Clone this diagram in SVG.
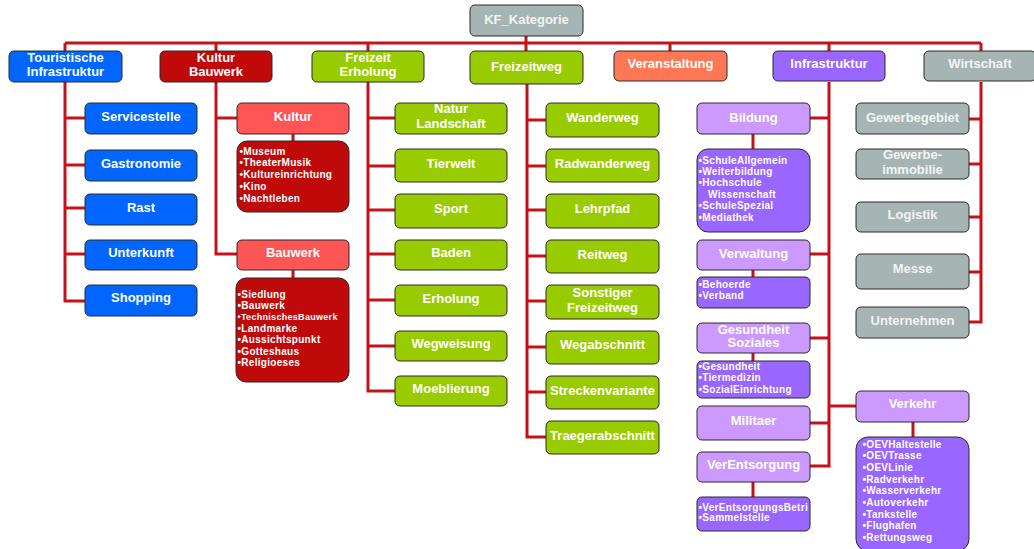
<svg xmlns="http://www.w3.org/2000/svg" width="1034" height="549" viewBox="0 0 1034 549">
<style>
.b{stroke:#2b2b2b;stroke-width:1}
.blue{fill:#0066FF}.dred{fill:#C00A0A}.lred{fill:#FF5555}.green{fill:#99CC00}.orange{fill:#FF7755}.purple{fill:#9966FF}.lpurple{fill:#CC99FF}.gray{fill:#A6B4B4}
text{font-family:"Liberation Sans",Arial,sans-serif;font-weight:bold;fill:#fff}
.t{font-size:13px;text-anchor:middle}
.l{font-size:10px;letter-spacing:0.3px}
.s{font-size:9px;letter-spacing:0.3px}
.gt{fill:#f2f4f4}
.c{fill:none;stroke:#C4121A;stroke-width:3;stroke-linejoin:miter}
</style>
<defs>
<clipPath id="clipVE"><rect x="697" y="497" width="113" height="34"/></clipPath>
</defs>
<rect width="1034" height="549" fill="#fff"/>
<g id="connectors">
<path class="c" d="M526,36V43M65,43H981M65,43V51M216,43V51M368,43V51M526,43V51M670,43V51M829,43V51M981,43V51"/>
<path class="c" d="M65,82V301H85M65,118H85M65,165H85M65,208H85M65,254H85"/>
<path class="c" d="M216,82V254H237M216,118H237M293,134V141M293,270V278"/>
<path class="c" d="M368,82V391H395M368,118H395M368,166H395M368,210H395M368,254H395M368,300H395M368,346H395"/>
<path class="c" d="M527,84V437H546M527,120H546M527,166H546M527,210H546M527,256H546M527,301H546M527,347H546M527,392H546"/>
<path class="c" d="M829,82V466H810M829,118H810M829,254H810M829,338H810M829,423H810M829,406H856M753,134V149M753,270V277M753,353V361M753,482V497M913,422V437"/>
<path class="c" d="M981,82V322H969M981,119H969M981,164H969M981,217H969M981,272H969"/>
</g>
<g id="KF_Kategorie"><rect class="b gray" x="470" y="5" width="113" height="31" rx="5"/><text class="t gt" x="526.5" y="23.5">KF_Kategorie</text></g>
<g id="TouristischeInfrastruktur"><rect class="b blue" x="9" y="51" width="113" height="31" rx="5"/><text class="t" x="65.5" y="61.5">Touristische</text><text class="t" x="65.5" y="75.5">Infrastruktur</text></g>
<g id="KulturBauwerk"><rect class="b dred" x="160" y="51" width="112" height="31" rx="5"/><text class="t" x="216" y="61.5">Kultur</text><text class="t" x="216" y="75.5">Bauwerk</text></g>
<g id="FreizeitErholung"><rect class="b green" x="312" y="51" width="112" height="31" rx="5"/><text class="t" x="368" y="61.5">Freizeit</text><text class="t" x="368" y="75.5">Erholung</text></g>
<g id="Freizeitweg"><rect class="b green" x="470" y="51" width="113" height="33" rx="5"/><text class="t" x="526.5" y="70.5">Freizeitweg</text></g>
<g id="Veranstaltung"><rect class="b orange" x="614" y="51" width="113" height="30" rx="5"/><text class="t" x="670.5" y="67.5">Veranstaltung</text></g>
<g id="Infrastruktur"><rect class="b purple" x="773" y="51" width="112" height="30" rx="5"/><text class="t" x="829" y="67.5">Infrastruktur</text></g>
<g id="Wirtschaft"><rect class="b gray" x="924" y="51" width="112" height="30" rx="5"/><text class="t gt" x="980" y="67.5">Wirtschaft</text></g>

<g id="Servicestelle"><rect class="b blue" x="85" y="103" width="112" height="31" rx="5"/><text class="t" x="141" y="120.5">Servicestelle</text></g>
<g id="Gastronomie"><rect class="b blue" x="85" y="150" width="112" height="31" rx="5"/><text class="t" x="141" y="167.5">Gastronomie</text></g>
<g id="Rast"><rect class="b blue" x="85" y="194" width="112" height="31" rx="5"/><text class="t" x="141" y="211.5">Rast</text></g>
<g id="Unterkunft"><rect class="b blue" x="85" y="240" width="112" height="30" rx="5"/><text class="t" x="141" y="256.5">Unterkunft</text></g>
<g id="Shopping"><rect class="b blue" x="85" y="285" width="112" height="31" rx="5"/><text class="t" x="141" y="301.5">Shopping</text></g>

<g id="Kultur"><rect class="b lred" x="237" y="103" width="112" height="31" rx="5"/><text class="t" x="293" y="120.5">Kultur</text></g>
<g id="KulturListe"><rect class="b dred" x="237" y="141" width="112" height="71" rx="10"/>
<text class="l" x="239.5" y="154.5">•Museum</text><text class="l" x="239.5" y="166.3">•TheaterMusik</text><text class="l" x="239.5" y="178">•Kultureinrichtung</text><text class="l" x="239.5" y="189.8">•Kino</text><text class="l" x="239.5" y="201.5">•Nachtleben</text></g>
<g id="Bauwerk"><rect class="b lred" x="237" y="240" width="112" height="30" rx="5"/><text class="t" x="293" y="256.5">Bauwerk</text></g>
<g id="BauwerkListe"><rect class="b dred" x="236" y="278" width="113" height="104" rx="10"/>
<text class="l" x="237.5" y="297.5">•Siedlung</text><text class="l" x="237.5" y="308.9">•Bauwerk</text><text class="s" x="237.5" y="320.3">•TechnischesBauwerk</text><text class="l" x="237.5" y="331.7">•Landmarke</text><text class="l" x="237.5" y="343.1">•Aussichtspunkt</text><text class="l" x="237.5" y="354.5">•Gotteshaus</text><text class="l" x="237.5" y="365.9">•Religioeses</text></g>

<g id="NaturLandschaft"><rect class="b green" x="395" y="103" width="112" height="31" rx="5"/><text class="t" x="451" y="112.5">Natur</text><text class="t" x="451" y="127.5">Landschaft</text></g>
<g id="Tierwelt"><rect class="b green" x="395" y="149" width="112" height="33" rx="5"/><text class="t" x="451" y="167.5">Tierwelt</text></g>
<g id="Sport"><rect class="b green" x="395" y="194" width="112" height="34" rx="5"/><text class="t" x="451" y="212.5">Sport</text></g>
<g id="Baden"><rect class="b green" x="395" y="240" width="112" height="30" rx="5"/><text class="t" x="451" y="256.5">Baden</text></g>
<g id="Erholung"><rect class="b green" x="395" y="285" width="112" height="31" rx="5"/><text class="t" x="451" y="302.5">Erholung</text></g>
<g id="Wegweisung"><rect class="b green" x="395" y="331" width="112" height="30" rx="5"/><text class="t" x="451" y="347.5">Wegweisung</text></g>
<g id="Moeblierung"><rect class="b green" x="395" y="376" width="112" height="30" rx="5"/><text class="t" x="451" y="392.5">Moeblierung</text></g>

<g id="Wanderweg"><rect class="b green" x="546" y="103" width="113" height="34" rx="5"/><text class="t" x="602.5" y="121.5">Wanderweg</text></g>
<g id="Radwanderweg"><rect class="b green" x="546" y="149" width="113" height="33" rx="5"/><text class="t" x="602.5" y="167.5">Radwanderweg</text></g>
<g id="Lehrpfad"><rect class="b green" x="546" y="194" width="113" height="34" rx="5"/><text class="t" x="602.5" y="212.5">Lehrpfad</text></g>
<g id="Reitweg"><rect class="b green" x="546" y="240" width="113" height="33" rx="5"/><text class="t" x="602.5" y="258.5">Reitweg</text></g>
<g id="SonstigerFreizeitweg"><rect class="b green" x="546" y="285" width="113" height="34" rx="5"/><text class="t" x="602.5" y="296.5">Sonstiger</text><text class="t" x="602.5" y="311.5">Freizeitweg</text></g>
<g id="Wegabschnitt"><rect class="b green" x="546" y="331" width="113" height="33" rx="5"/><text class="t" x="602.5" y="348.5">Wegabschnitt</text></g>
<g id="Streckenvariante"><rect class="b green" x="546" y="376" width="113" height="33" rx="5"/><text class="t" x="602.5" y="394.5">Streckenvariante</text></g>
<g id="Traegerabschnitt"><rect class="b green" x="546" y="421" width="113" height="33" rx="5"/><text class="t" x="602.5" y="439.5">Traegerabschnitt</text></g>

<g id="Bildung"><rect class="b lpurple" x="697" y="103" width="113" height="31" rx="5"/><text class="t" x="753.5" y="121.5">Bildung</text></g>
<g id="BildungListe"><rect class="b purple" x="697" y="149" width="113" height="83" rx="11"/>
<text class="l" x="698.5" y="163.5">•SchuleAllgemein</text><text class="l" x="698.5" y="174.9">•Weiterbildung</text><text class="l" x="698.5" y="186.3">•Hochschule</text><text class="l" x="708" y="197.7">Wissenschaft</text><text class="l" x="698.5" y="209.1">•SchuleSpezial</text><text class="l" x="698.5" y="220.5">•Mediathek</text></g>
<g id="Verwaltung"><rect class="b lpurple" x="697" y="240" width="113" height="30" rx="5"/><text class="t" x="753.5" y="257.5">Verwaltung</text></g>
<g id="VerwaltungListe"><rect class="b purple" x="697" y="277" width="113" height="31" rx="5"/>
<text class="l" x="698.5" y="287.5">•Behoerde</text><text class="l" x="698.5" y="299.3">•Verband</text></g>
<g id="GesundheitSoziales"><rect class="b lpurple" x="697" y="323" width="113" height="30" rx="5"/><text class="t" x="753.5" y="333.5">Gesundheit</text><text class="t" x="753.5" y="347">Soziales</text></g>
<g id="GesundheitListe"><rect class="b purple" x="697" y="361" width="113" height="37" rx="5"/>
<text class="l" x="698.5" y="369.5">•Gesundheit</text><text class="l" x="698.5" y="381">•Tiermedizin</text><text class="l" x="698.5" y="392.5">•SozialEinrichtung</text></g>
<g id="Militaer"><rect class="b lpurple" x="697" y="406" width="113" height="34" rx="5"/><text class="t" x="753.5" y="424.5">Militaer</text></g>
<g id="VerEntsorgung"><rect class="b lpurple" x="697" y="452" width="113" height="30" rx="5"/><text class="t" x="753.5" y="468.5">VerEntsorgung</text></g>
<g id="VerEntsorgungListe"><rect class="b purple" x="697" y="497" width="113" height="34" rx="5"/>
<g clip-path="url(#clipVE)"><text class="l" x="698.5" y="510.5">•VerEntsorgungsBetri</text></g><text class="l" x="698.5" y="521">•Sammelstelle</text></g>
<g id="Verkehr"><rect class="b lpurple" x="856" y="391" width="113" height="31" rx="5"/><text class="t" x="912.5" y="407.5">Verkehr</text></g>
<g id="VerkehrListe"><rect class="b purple" x="856" y="437" width="113" height="114" rx="12"/>
<text class="l" x="862.5" y="447.5">•OEVHaltestelle</text><text class="l" x="862.5" y="459.2">•OEVTrasse</text><text class="l" x="862.5" y="470.9">•OEVLinie</text><text class="l" x="862.5" y="482.6">•Radverkehr</text><text class="l" x="862.5" y="494.3">•Wasserverkehr</text><text class="l" x="862.5" y="506">•Autoverkehr</text><text class="l" x="862.5" y="517.7">•Tankstelle</text><text class="l" x="862.5" y="529.4">•Flughafen</text><text class="l" x="862.5" y="541.1">•Rettungsweg</text></g>

<g id="Gewerbegebiet"><rect class="b gray" x="856" y="103" width="113" height="31" rx="5"/><text class="t gt" x="912.5" y="121.5">Gewerbegebiet</text></g>
<g id="Gewerbeimmobilie"><rect class="b gray" x="856" y="149" width="113" height="30" rx="5"/><text class="t gt" x="912.5" y="158.5">Gewerbe-</text><text class="t gt" x="912.5" y="173.5">immobilie</text></g>
<g id="Logistik"><rect class="b gray" x="856" y="202" width="113" height="30" rx="5"/><text class="t gt" x="912.5" y="218.5">Logistik</text></g>
<g id="Messe"><rect class="b gray" x="856" y="254" width="113" height="35" rx="5"/><text class="t gt" x="912.5" y="272.5">Messe</text></g>
<g id="Unternehmen"><rect class="b gray" x="856" y="307" width="113" height="31" rx="5"/><text class="t gt" x="912.5" y="324.5">Unternehmen</text></g>
</svg>
